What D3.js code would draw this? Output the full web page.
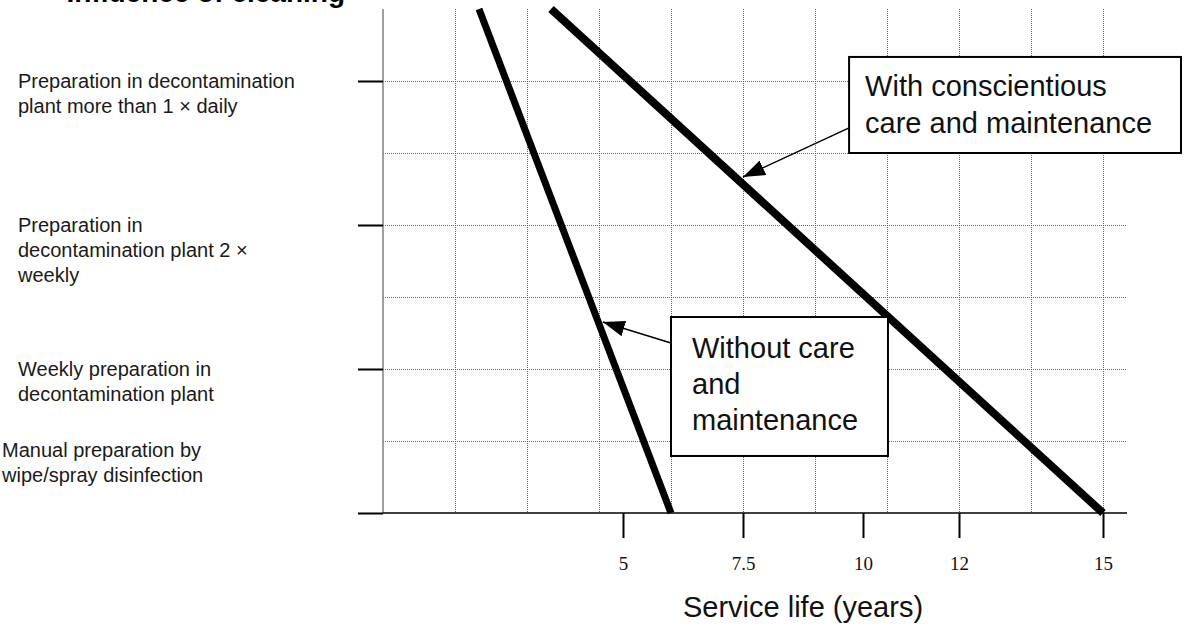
<!DOCTYPE html>
<html>
<head>
<meta charset="utf-8">
<script src="https://cdn.jsdelivr.net/npm/d3@7"></script>
<style>
  html, body { margin: 0; padding: 0; background: #fff; }
  svg { display: block; }
  .cat-label { font-family: "Liberation Sans", Arial, sans-serif; font-size: 20px; fill: #1a1a1a; }
  .note { font-family: "Liberation Sans", Arial, sans-serif; font-size: 29px; fill: #111; }
  .x-tick text { font-family: "Liberation Serif", "Times New Roman", serif; font-size: 19px; fill: #111; }
</style>
</head>
<body>
<div id="chart"></div>
<script>
// y categories, top to bottom (each split into its printed lines)
const categoryLines = [
    ["Preparation in decontamination", "plant more than 1 \u00d7 daily"],
    ["Preparation in", "decontamination plant 2 \u00d7", "weekly"],
    ["Weekly preparation in", "decontamination plant"],
    ["Manual preparation by", "wipe/spray disinfection"]
];
const categoryLevels = [3, 2, 1, 0];

// x axis tick labels (years)
const xTickValues = [5, 7.5, 10, 12, 15];

// series: service life (years) against preparation level
const withoutCareYears = [2, 6];
const withoutCareLevels = [3.5, 0];
const withCareYears = [3.5, 15];
const withCareLevels = [3.5, 0];

// annotation texts
const noteWithLines = ["With conscientious", "care and maintenance"];
const noteWithoutLines = ["Without care", "and", "maintenance"];

const xTitle = "Service life (years)";
const chartTitle = "Influence of cleaning";

const W = 1184, H = 625;

const svg = d3.select("#chart").append("svg")
    .attr("width", W)
    .attr("height", H);

const x = d3.scaleLinear().domain([0, 15]).range([383, 1103]);
const y = d3.scaleLinear().domain([0, 3.5]).range([513, 9]);

// title, mostly cut off at the top edge
svg.append("text")
    .attr("x", 345)
    .attr("y", 1.5)
    .attr("text-anchor", "end")
    .style("font-family", "Liberation Sans, Arial, sans-serif")
    .style("font-weight", "bold")
    .style("font-size", "28px")
    .text(chartTitle);

// dotted grid
const grid = svg.append("g").attr("class", "grid");
grid.selectAll("line.v")
    .data(d3.range(1.5, 15.001, 1.5))
    .enter().append("line")
    .attr("class", "v")
    .attr("x1", d => Math.round(x(d)) + 0.5)
    .attr("x2", d => Math.round(x(d)) + 0.5)
    .attr("y1", y(3.5))
    .attr("y2", y(0))
    .attr("stroke", "#666")
    .attr("stroke-width", 1)
    .attr("stroke-dasharray", "1,1");

grid.selectAll("line.h")
    .data([0.5, 1, 1.5, 2, 2.5, 3])
    .enter().append("line")
    .attr("class", "h")
    .attr("x1", x(0))
    .attr("x2", x(15.5))
    .attr("y1", d => Math.round(y(d)) + 0.5)
    .attr("y2", d => Math.round(y(d)) + 0.5)
    .attr("stroke", "#666")
    .attr("stroke-width", 1)
    .attr("stroke-dasharray", "1,1");

// y axis: grey spine + black category ticks
svg.append("line")
    .attr("x1", x(0)).attr("x2", x(0))
    .attr("y1", y(3.5)).attr("y2", y(0))
    .attr("stroke", "#808080")
    .attr("stroke-width", 1.5);

const yAxis = svg.append("g")
    .attr("transform", `translate(${x(0)},0)`)
    .call(d3.axisLeft(y).tickValues(categoryLevels).tickSize(25).tickFormat(""));
yAxis.select(".domain").remove();
yAxis.selectAll(".tick line").attr("stroke", "#000").attr("stroke-width", 2);

// x axis
svg.append("line")
    .attr("x1", x(0)).attr("x2", x(15.5))
    .attr("y1", y(0)).attr("y2", y(0))
    .attr("stroke", "#000")
    .attr("stroke-width", 1.5);

const xAxis = svg.append("g")
    .attr("class", "x-tick")
    .attr("transform", `translate(0,${y(0)})`)
    .call(d3.axisBottom(x).tickValues(xTickValues).tickSize(25).tickPadding(19)
        .tickFormat(d => String(d)));
xAxis.select(".domain").remove();
xAxis.selectAll(".tick line").attr("stroke", "#000").attr("stroke-width", 2);
xAxis.selectAll(".tick text").attr("font-family", null).attr("font-size", null);

svg.append("text")
    .attr("class", "note")
    .attr("x", 803)
    .attr("y", 617)
    .attr("text-anchor", "middle")
    .text(xTitle);

// category labels
const catG = svg.append("g");
categoryLines.forEach((lines, i) => {
    const lvl = categoryLevels[i];
    // the bottom label sits between the 0.5 grid line and the axis
    const top = lvl === 0 ? y(0.5) + 16 : y(lvl) + 7;
    const left = lvl === 0 ? 2 : 18;
    const t = catG.append("text").attr("class", "cat-label");
    lines.forEach((s, j) => {
        t.append("tspan").attr("x", left).attr("y", top + j * 25).text(s);
    });
});

// the two service life lines
const line = d3.line().x(d => x(d[0])).y(d => y(d[1]));
const withoutCare = d3.zip(withoutCareYears, withoutCareLevels);
const withCare = d3.zip(withCareYears, withCareLevels);

svg.append("path")
    .datum(withoutCare)
    .attr("d", line)
    .attr("fill", "none")
    .attr("stroke", "#000")
    .attr("stroke-width", 7);

svg.append("path")
    .datum(withCare)
    .attr("d", line)
    .attr("fill", "none")
    .attr("stroke", "#000")
    .attr("stroke-width", 8);

// arrow head marker
svg.append("defs").append("marker")
    .attr("id", "arrow")
    .attr("markerUnits", "userSpaceOnUse")
    .attr("viewBox", "0 0 22 16")
    .attr("refX", 22).attr("refY", 8)
    .attr("markerWidth", 22).attr("markerHeight", 16)
    .attr("orient", "auto")
    .append("path")
    .attr("d", "M0,0 L22,8 L0,16 Z")
    .attr("fill", "#000");

// callouts (box corners and arrow tips in data units)
function callout(lines, box, from, tip, pad, lh) {
    const g = svg.append("g");
    g.append("line")
        .attr("x1", x(from[0])).attr("y1", y(from[1]))
        .attr("x2", x(tip[0])).attr("y2", y(tip[1]))
        .attr("stroke", "#000")
        .attr("stroke-width", 1.5)
        .attr("marker-end", "url(#arrow)");
    g.append("rect")
        .attr("x", x(box[0]))
        .attr("y", y(box[1]))
        .attr("width", x(box[2]) - x(box[0]))
        .attr("height", y(box[3]) - y(box[1]))
        .attr("fill", "#fff")
        .attr("stroke", "#000")
        .attr("stroke-width", 2);
    const t = g.append("text").attr("class", "note");
    lines.forEach((s, j) => {
        t.append("tspan")
            .attr("x", x(box[0]) + pad[0])
            .attr("y", y(box[1]) + pad[1] + j * lh)
            .text(s);
    });
}

callout(noteWithLines, [9.71, 3.167, 16.625, 2.5], [9.71, 2.674], [7.5, 2.333], [16, 39], 37);
callout(noteWithoutLines, [6.0, 1.361, 10.52, 0.396], [6.0, 1.18], [4.58, 1.326], [21, 41], 36);
</script>
</body>
</html>
